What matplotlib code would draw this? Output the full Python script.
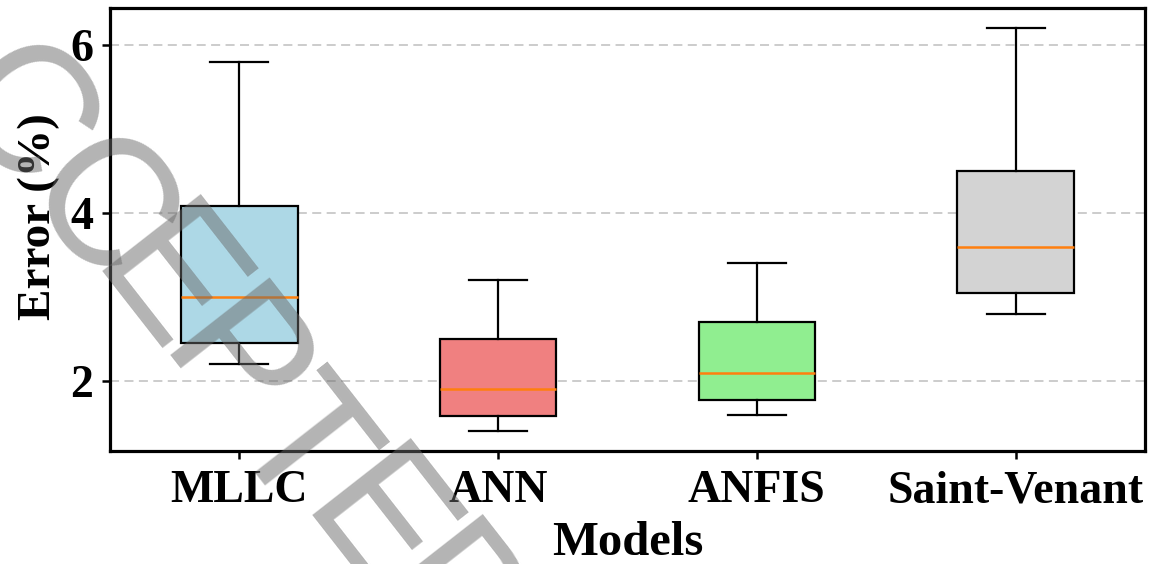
import matplotlib
matplotlib.use('Agg')
import matplotlib.pyplot as plt

models = ['MLLC', 'ANN', 'ANFIS', 'Saint-Venant']
whisker_low = [2.2, 1.4, 1.6, 2.8]
q1 = [2.45, 1.58, 1.77, 3.05]
median = [3.0, 1.9, 2.1, 3.6]
q3 = [4.08, 2.5, 2.7, 4.5]
whisker_high = [5.8, 3.2, 3.4, 6.2]
box_colors = ['lightblue', 'lightcoral', 'lightgreen', 'lightgray']

# watermark letters and where their centres sit (pixels from top-left)
wm_letters = ['A', 'C', 'C', 'E', 'P', 'T', 'E', 'D']
wm_x = [-75, 30, 110, 175, 243, 310, 385, 460]
wm_y = [15, 110, 203, 276, 360, 440, 520, 600]

plt.rcParams['font.family'] = 'Liberation Serif'
plt.rcParams['font.weight'] = 'bold'

W, H = 1162, 564
fig = plt.figure(figsize=(W / 100, H / 100), dpi=100)
ax = fig.add_axes([110 / W, 1 - 451 / H, 1035 / W, 443 / H])

stats = []
for i, name in enumerate(models):
    stats.append({'label': name, 'whislo': whisker_low[i], 'q1': q1[i],
                  'med': median[i], 'q3': q3[i], 'whishi': whisker_high[i],
                  'fliers': []})

bp = ax.bxp(stats, widths=0.45, patch_artist=True, showfliers=False,
            boxprops=dict(linewidth=1.6, edgecolor='black'),
            whiskerprops=dict(linewidth=1.6, color='black'),
            capprops=dict(linewidth=1.6, color='black'),
            medianprops=dict(linewidth=1.8, color='#ff7f0e'))
for patch, c in zip(bp['boxes'], box_colors):
    patch.set_facecolor(c)
    patch.set_zorder(2)

ax.set_ylim(1.167, 6.44)
ax.set_xlim(0.5, 4.5)
ax.set_yticks([2, 4, 6])
ax.yaxis.grid(True, linestyle='--', color='#c8c8c8', linewidth=1.3, dashes=(5, 3))
ax.set_axisbelow(True)
for s in ax.spines.values():
    s.set_linewidth(2.3)
ax.tick_params(axis='both', length=6, width=1.8, labelsize=33)
ax.tick_params(axis='y', pad=6)
ax.tick_params(axis='x', pad=8)
ax.set_xlabel('Models', fontsize=35, fontweight='bold', labelpad=6)
ax.set_ylabel('Error (%)', fontsize=34, fontweight='bold')
ax.yaxis.set_label_coords(-0.048, 0.53)

# journal watermark, drawn letter by letter
for ch, x, y in zip(wm_letters, wm_x, wm_y):
    fig.text((x - 15) / W, 1 - (y + 12) / H, ch, family='Liberation Sans',
             fontweight='normal', fontsize=130, color='#6a6a6a', alpha=0.5,
             rotation=-52, rotation_mode='anchor', ha='center', va='center',
             zorder=10)

fig.savefig('out.png', dpi=100)
